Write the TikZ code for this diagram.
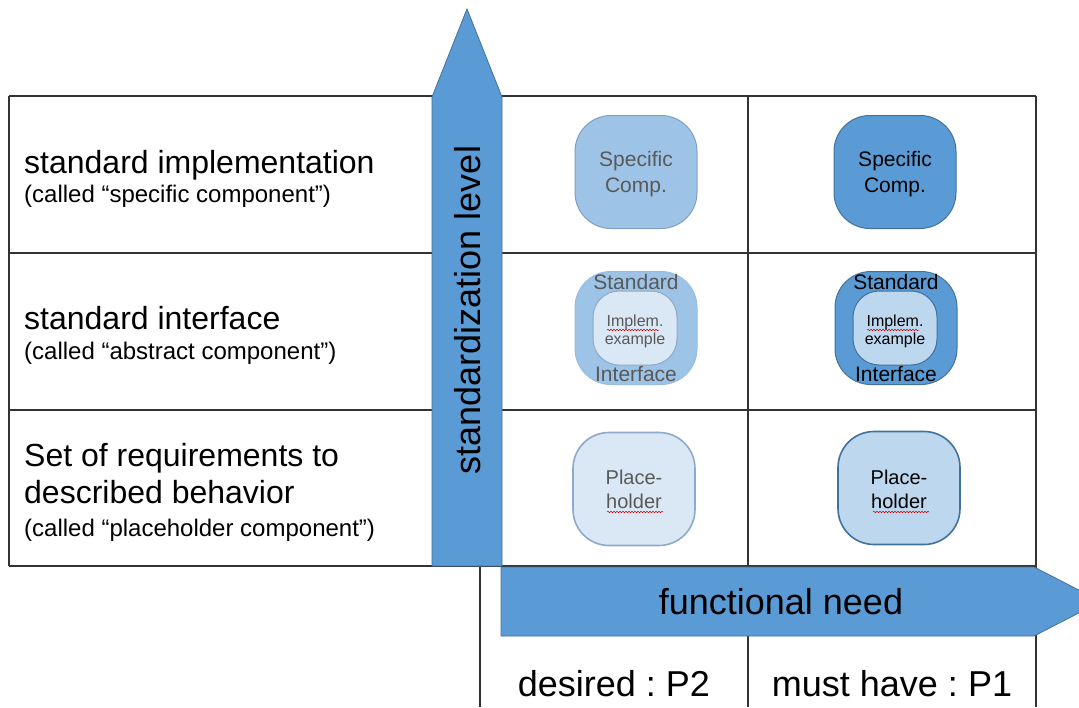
\documentclass[tikz,border=0pt]{standalone}
\usepackage{fontspec}
\setmainfont{Liberation Sans}
\usepackage{xcolor}
\usepackage{tikz}
\usetikzlibrary{positioning, calc, decorations.pathmorphing}
\definecolor{arrowblue}{HTML}{5B9BD5}
\definecolor{arrowedge}{HTML}{41719C}
\definecolor{midblue}{HTML}{9DC3E6}
\definecolor{midedge}{HTML}{819FC2}
\definecolor{paleblue}{HTML}{DAE8F5}
\definecolor{lightblue}{HTML}{BDD7EE}
\definecolor{paleedge}{HTML}{8EA9C9}
\definecolor{greytext}{HTML}{595959}
\definecolor{gridline}{HTML}{333333}
\tikzstyle{gridrule} = [draw=gridline, line width=1.7pt]
\tikzstyle{bigarrow} = [fill=arrowblue, draw=arrowedge, line width=0.8pt]
\tikzstyle{comp} = [rectangle, rounded corners=36pt, minimum width=122pt, minimum height=113pt, inner sep=0pt, align=center, font=\fontsize{21}{26}\selectfont]
\tikzstyle{inner} = [rectangle, rounded corners=26pt, minimum width=84pt, minimum height=74pt, inner sep=0pt]
\tikzstyle{comptext} = [anchor=base, inner sep=0pt, align=center, font=\fontsize{21}{26}\selectfont]
\tikzstyle{spell} = [draw=red!80!black, line width=0.5pt, decorate, decoration={snake, amplitude=0.8pt, segment length=3pt}]
\frenchspacing

\begin{document}
\begin{tikzpicture}[
    x=1pt, y=-1pt,
    rowlabel/.style={anchor=base west, inner sep=0pt, font=\fontsize{32}{38}\selectfont},
    rowsub/.style={anchor=base west, inner sep=0pt, font=\fontsize{24}{29}\selectfont},
    axislabel/.style={inner sep=0pt, font=\fontsize{36}{43}\selectfont},
    light/.style={fill=midblue, draw=midedge, line width=1pt, text=greytext},
    dark/.style={fill=arrowblue, draw=arrowedge, line width=1pt, text=black}
]
\clip (0,0) rectangle (1079,707);
\fill[white] (0,0) rectangle (1079,707);

\foreach \y in {96,253,410,566}
    \draw[gridrule] (9,\y) -- (1036,\y);
\draw[gridrule] (9,96) -- (9,566);
\draw[gridrule] (748,96) -- (748,707);
\draw[gridrule] (1036,96) -- (1036,707);
\draw[gridrule] (480,566) -- (480,707);

\draw[bigarrow] (432,566) -- (432,97) -- (467,9) -- (502,97) -- (502,566) -- cycle;
\draw[bigarrow] (501,567) -- (1034,567) -- (1101,601.5) -- (1034,636) -- (501,636) -- cycle;

\node[axislabel, rotate=90] (stdlevel) at (468,310) {standardization level};
\node[axislabel, anchor=base] (funcneed) at (781,614) {functional need};
\node[axislabel, anchor=base] (desired) at (614,696) {desired : P2};
\node[axislabel, anchor=base] (musthave) at (892,696) {must have : P1};

\node[rowlabel] (impl) at (24,173) {standard implementation};
\node[rowsub] (implsub) at (24,202) {(called “specific component”)};
\node[rowlabel] (iface) at (24,329) {standard interface};
\node[rowsub] (ifacesub) at (24,359) {(called “abstract component”)};
\node[rowlabel] (reqa) at (24,466) {Set of requirements to};
\node[rowlabel] (reqb) at (24,503) {described behavior};
\node[rowsub] (reqsub) at (24,536) {(called “placeholder component”)};

\node[comp, light] (specP2) at (636,172) {};
\node[comp, dark] (specP1) at (895,172) {};
\node[comptext, text=greytext] (specP2txt) at (636,192) {Specific\\Comp.};
\node[comptext] (specP1txt) at (895,192) {Specific\\Comp.};

\node[comp, light, draw=midblue!80!midedge] (ifaceP2) at (636,328) {};
\node[inner, fill=paleblue, draw=paleedge, line width=1pt] (implP2) at (635,328) {};
\node[comp, dark] (ifaceP1) at (896,328) {};
\node[inner, fill=lightblue, draw=arrowedge, line width=1pt] (implP1) at (895,328) {};
\node[comptext, text=greytext, font=\fontsize{16}{18}\selectfont] (implP2txt) at (635,344) {Implem.\\example};
\node[comptext, font=\fontsize{16}{18}\selectfont] (implP1txt) at (895,344) {Implem.\\example};
\node[comptext, text=greytext] (stdP2) at (636,289) {Standard};
\node[comptext, text=greytext] (intP2) at (636,381) {Interface};
\node[comptext] (stdP1) at (896,289) {Standard};
\node[comptext] (intP1) at (896,381) {Interface};

\node[comp, fill=paleblue, draw=paleedge, line width=1.6pt] (holdP2) at (634,489) {};
\node[comp, fill=lightblue, draw=arrowedge, line width=1.6pt] (holdP1) at (899,488) {};
\node[comptext, text=greytext, font=\fontsize{20}{24}\selectfont] (holdP2txt) at (634,508) {Place-\\holder};
\node[comptext, font=\fontsize{20}{24}\selectfont] (holdP1txt) at (899,508) {Place-\\holder};

\draw[spell] (607,330) -- (659,330);
\draw[spell] (867,330) -- (919,330);
\draw[spell] (607,512) -- (663,512);
\draw[spell] (873,512) -- (929,512);
\end{tikzpicture}
\end{document}
